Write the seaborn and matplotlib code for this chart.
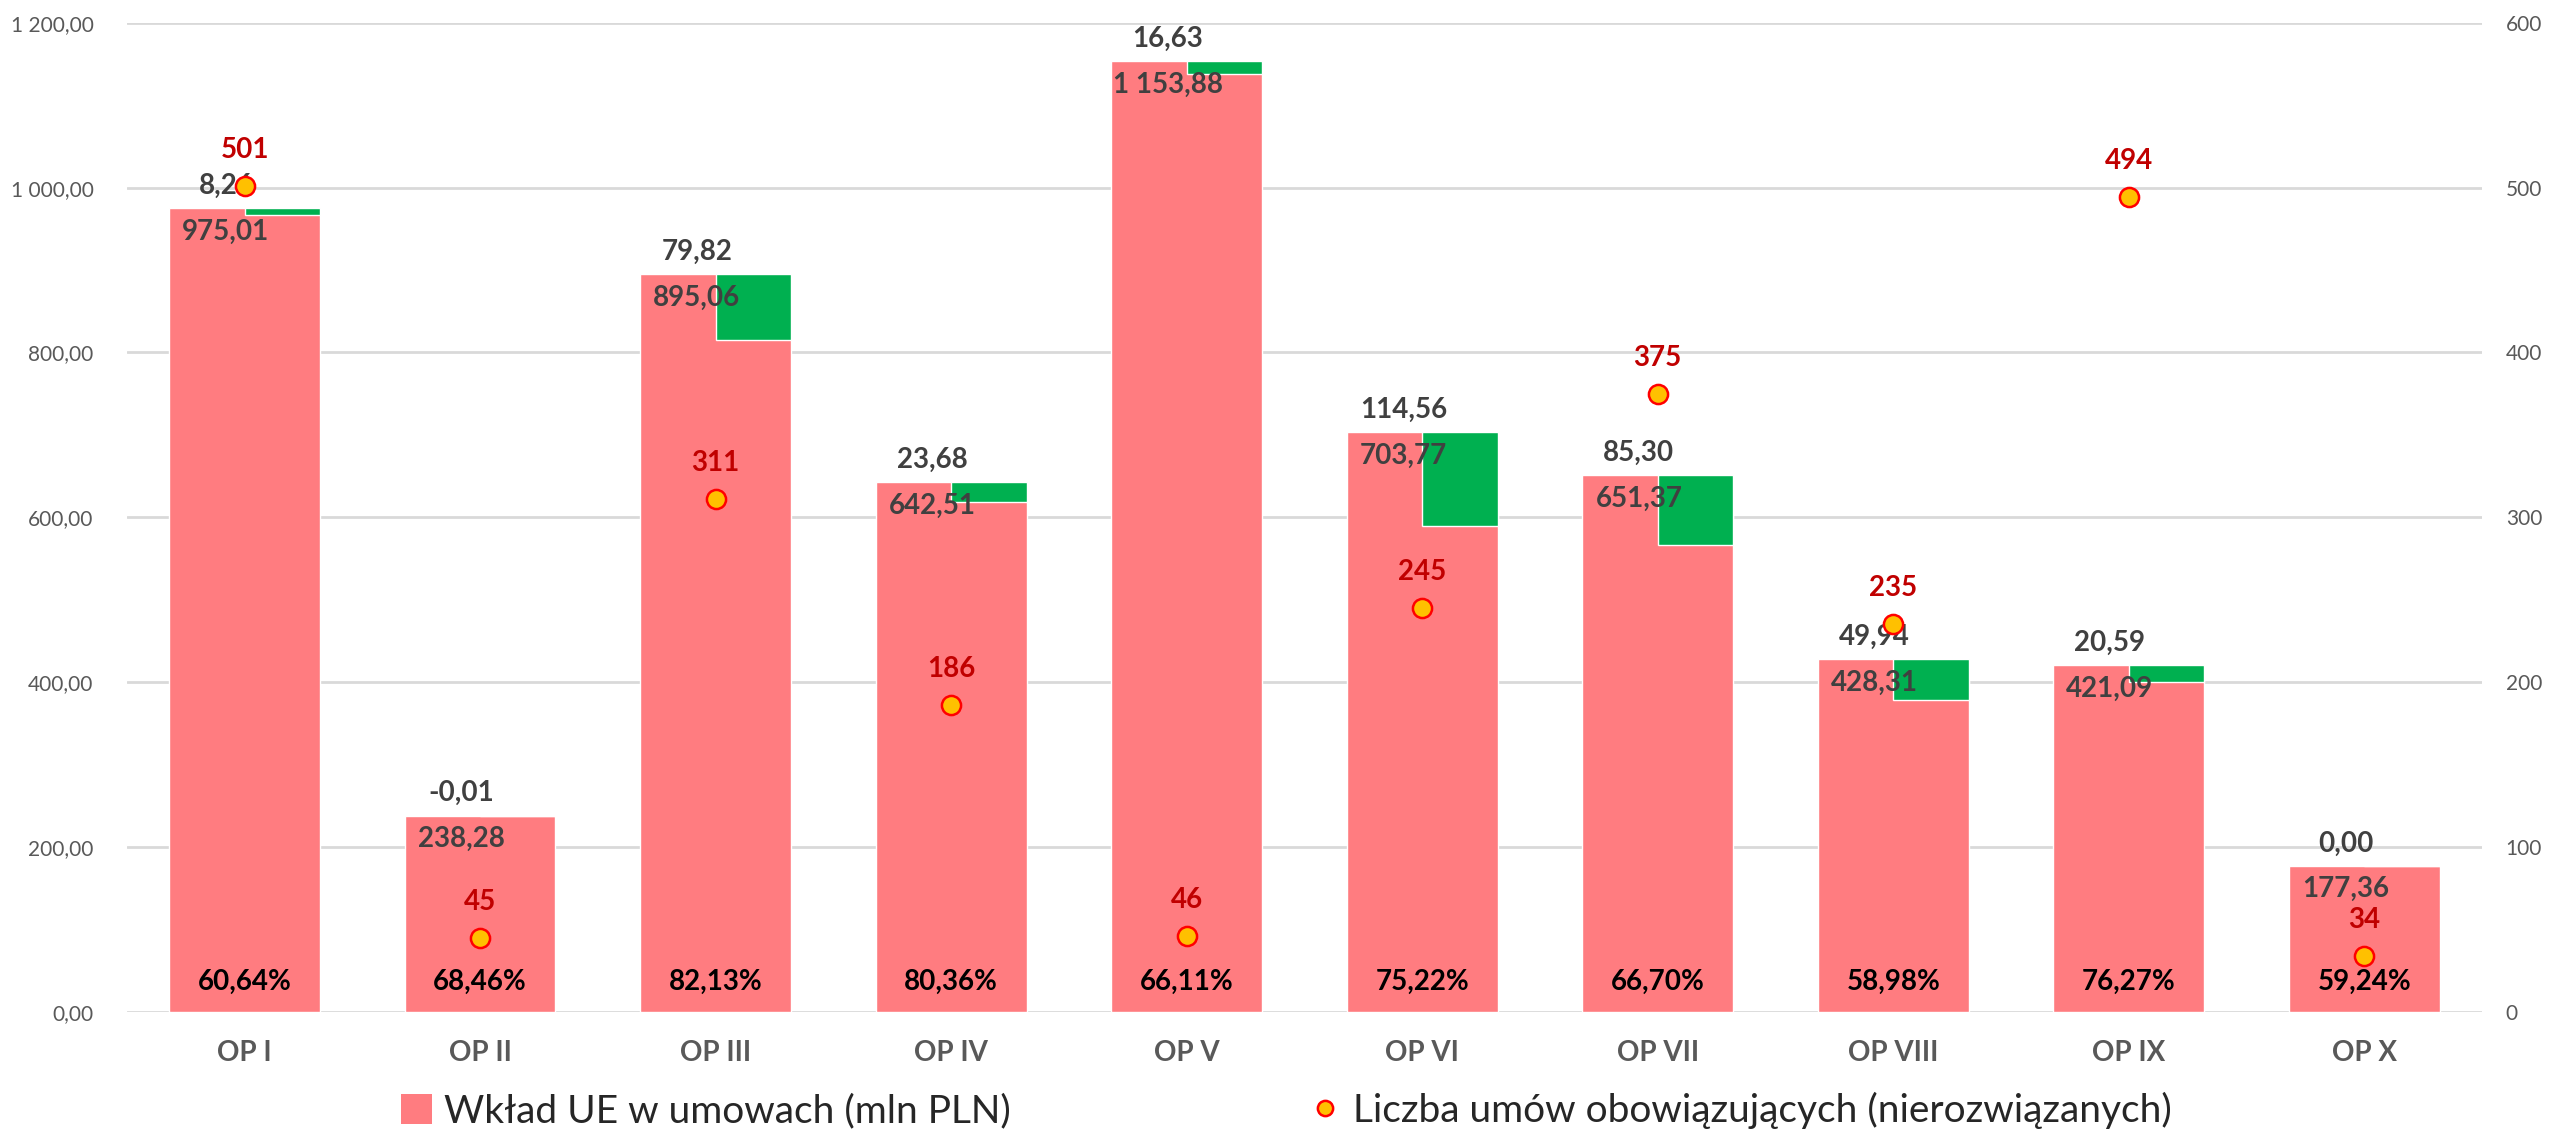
import matplotlib
matplotlib.use('Agg')
import matplotlib.pyplot as plt
import seaborn as sns
import pandas as pd
from matplotlib.lines import Line2D
from matplotlib.patches import Patch

# dane
kategorie = ['OP I', 'OP II', 'OP III', 'OP IV', 'OP V', 'OP VI', 'OP VII', 'OP VIII', 'OP IX', 'OP X']
wklad_ue = [975.01, 238.28, 895.06, 642.51, 1153.88, 703.77, 651.37, 428.31, 421.09, 177.36]
roznica = [8.26, -0.01, 79.82, 23.68, 16.63, 114.56, 85.30, 49.94, 20.59, 0.00]
liczba_umow = [501, 45, 311, 186, 46, 245, 375, 235, 494, 34]
procent = ['60,64%', '68,46%', '82,13%', '80,36%', '66,11%', '75,22%', '66,70%', '58,98%', '76,27%', '59,24%']

def pl(v):
    # format polski: spacja tysiecy, przecinek dziesietny
    s = f'{v:,.2f}'
    return s.replace(',', ' ').replace('.', ',')

df = pd.DataFrame({'OP': kategorie, 'Wklad': wklad_ue, 'Roznica': roznica, 'Liczba': liczba_umow})

sns.set_style('white')
plt.rcParams['font.family'] = ['Lato', 'DejaVu Sans']

fig = plt.figure(figsize=(25.52, 11.37), dpi=100)
ax = fig.add_axes([0.0497, 0.110, 0.9229, 0.870])

sns.barplot(data=df, x='OP', y='Wklad', color='#FF7C80', width=0.64, saturation=1, ax=ax, zorder=2)

# zielone slupki - prawa polowa wierzcholka
x = range(len(kategorie))
gora = [max(r, 0) for r in roznica]
ax.bar([i + 0.16 for i in x], gora, width=0.32,
       bottom=[w - g for w, g in zip(wklad_ue, gora)], color='#00B050', zorder=3)

ax.set_ylim(0, 1200)
ax.set_xlim(-0.5, len(kategorie) - 0.5)
ax.set_yticks(range(0, 1201, 200))
ax.set_yticklabels([pl(v) for v in range(0, 1201, 200)], fontsize=15, color='#595959')
ax.tick_params(axis='y', length=0, pad=24)
ax.tick_params(axis='x', length=0, pad=20)
ax.set_xticks(list(x))
ax.set_xticklabels(kategorie, fontsize=20, fontweight='bold', color='#595959')
ax.set_xlabel('')
ax.set_ylabel('')
ax.grid(axis='y', color='#D9D9D9', linewidth=2, zorder=0)
ax.set_axisbelow(True)
for s in ax.spines.values():
    s.set_visible(False)

for i in x:
    ax.annotate(pl(roznica[i]), (i - 0.08, wklad_ue[i]), xytext=(0, 16), textcoords='offset points',
                ha='center', va='center', fontsize=20, fontweight='bold', color='#404040', zorder=5)
    ax.annotate(pl(wklad_ue[i]), (i - 0.08, wklad_ue[i]), xytext=(0, -17), textcoords='offset points',
                ha='center', va='center', fontsize=20, fontweight='bold', color='#404040', zorder=5)
    ax.text(i, 36, procent[i], ha='center', va='center', fontsize=20, fontweight='bold',
            color='black', zorder=5)

# os pomocnicza - liczba umow
ax2 = ax.twinx()
sns.scatterplot(data=df, x='OP', y='Liczba', ax=ax2, s=190, color='#FFC000',
                edgecolor='#FF0000', linewidth=1.8, zorder=6, legend=False)
ax2.set_ylim(0, 600)
ax2.set_yticks(range(0, 601, 100))
ax2.set_yticklabels([str(v) for v in range(0, 601, 100)], fontsize=15, color='#595959')
ax2.tick_params(axis='y', length=0, pad=17)
ax2.set_ylabel('')
for s in ax2.spines.values():
    s.set_visible(False)
for i in x:
    ax2.annotate(str(liczba_umow[i]), (i, liczba_umow[i]), xytext=(0, 26), textcoords='offset points',
                 ha='center', va='center', fontsize=20, fontweight='bold', color='#C00000', zorder=7)

uchwyty = [Patch(facecolor='#FF7C80', edgecolor='none'),
           Line2D([], [], marker='o', linestyle='none', markersize=11, markerfacecolor='#FFC000',
                  markeredgecolor='#FF0000', markeredgewidth=1.8)]
fig.legend(uchwyty, ['Wkład UE w umowach (mln PLN)', 'Liczba umów obowiązujących (nierozwiązanych)'],
           loc='center', bbox_to_anchor=(0.504, 0.023), ncol=2, frameon=False, fontsize=28,
           handlelength=0.8, handleheight=0.8, handletextpad=0.3, columnspacing=7.7)

plt.savefig('out.png', dpi=100)
